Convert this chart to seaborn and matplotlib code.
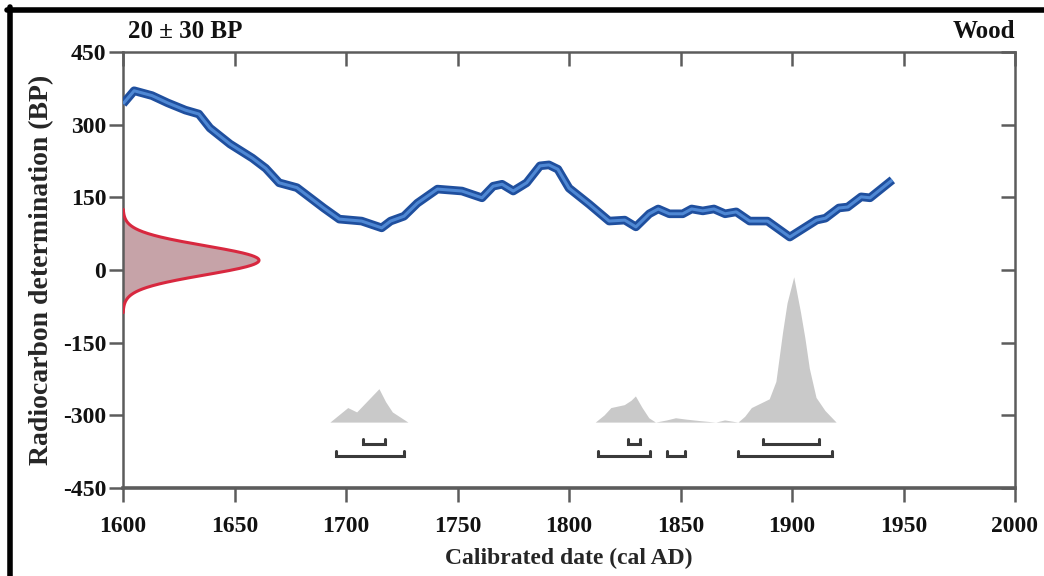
import numpy as np
import matplotlib
matplotlib.use("Agg")
import matplotlib.pyplot as plt
from matplotlib.lines import Line2D
import seaborn as sns

# Radiocarbon measurement
bp_mean = 20
bp_sigma = 30
sample_label = "20 ± 30 BP"
material = "Wood"

# Calibration curve: calendar year (cal AD) vs radiocarbon age (BP)
curve_year = [1600, 1605, 1613, 1620, 1628, 1634, 1639, 1648, 1658, 1664,
              1670, 1678, 1684, 1690, 1697, 1702, 1707, 1716, 1720, 1726,
              1732, 1741, 1752, 1761, 1766, 1770, 1775, 1781, 1787, 1791,
              1795, 1800, 1809, 1818, 1825, 1830, 1836, 1840, 1845, 1851,
              1855, 1860, 1865, 1870, 1875, 1881, 1889, 1899, 1911, 1915,
              1921, 1925, 1931, 1935, 1945]
curve_bp = [343, 370, 360, 345, 330, 322, 293, 260, 231, 210,
            180, 170, 149, 128, 105, 103, 101, 87, 101, 111,
            138, 167, 163, 149, 173, 177, 163, 180, 215, 217,
            208, 169, 136, 101, 103, 89, 116, 126, 116, 116,
            126, 122, 126, 116, 120, 101, 101, 68, 103, 107,
            128, 130, 151, 149, 186]

# Calibrated date probability (relative, peak = 100)
prob_year = [1693, 1697, 1701, 1705, 1710, 1715, 1718, 1721, 1725, 1728,
             1812, 1816, 1819, 1825, 1828, 1830, 1833, 1836, 1839, 1844,
             1848, 1853, 1859, 1866, 1870, 1876, 1879, 1882, 1886, 1890,
             1893, 1896, 1898, 1901, 1904, 1906, 1908, 1911, 1915, 1920]
prob_rel = [0, 5, 10, 7, 15, 23, 14, 7, 3, 0,
            0, 5, 10, 12, 15, 18, 10, 3, 0, 1.5,
            3, 2, 1, 0, 1.5, 0, 4, 10, 13, 16,
            28, 62, 82, 100, 76, 58, 37, 17, 8, 0]

# Calibrated ranges (68.2 % and 95.4 %)
ranges_68 = [(1707.4, 1717.7), (1826.4, 1831.8), (1887.2, 1912.3)]
ranges_95 = [(1695.7, 1726.2), (1813.0, 1836.2), (1843.8, 1851.9), (1876.0, 1918.1)]

x_ticks = [1600, 1650, 1700, 1750, 1800, 1850, 1900, 1950, 2000]
y_ticks = [450, 300, 150, 0, -150, -300, -450]

sns.set_theme(style="ticks")
plt.rcParams["font.family"] = ["Liberation Serif", "DejaVu Serif"]
plt.rcParams["font.weight"] = "bold"
plt.rcParams["axes.unicode_minus"] = False

fig = plt.figure(figsize=(10.44, 5.76), dpi=100)
ax = fig.add_axes([123 / 1044, 1 - 488 / 576, (1015 - 123) / 1044, (488 - 52) / 576])

# measured age as a normal distribution on the y axis
yy = np.linspace(bp_mean - 3.6 * bp_sigma, bp_mean + 3.5 * bp_sigma, 300)
pdf = np.exp(-0.5 * ((yy - bp_mean) / bp_sigma) ** 2)
width_years = 61
ax.fill_betweenx(yy, 1600, 1600 + width_years * pdf, facecolor="#c6a3a8",
                 edgecolor="none", zorder=2)
ax.plot(1600 + width_years * pdf, yy, color="#d8283f", lw=2.2, zorder=3)

# calibration curve band
sns.lineplot(x=curve_year, y=curve_bp, ax=ax, color="#1f4f9e", lw=6.2,
             solid_joinstyle="round", solid_capstyle="butt", zorder=4)
sns.lineplot(x=curve_year, y=curve_bp, ax=ax, color="#4f88d4", lw=2.2,
             solid_joinstyle="round", solid_capstyle="butt", zorder=5)

# calibrated probability distribution
baseline = -315
peak_height = 300
prob = np.array(prob_rel) / 100 * peak_height
ax.fill_between(prob_year, baseline, baseline + prob, facecolor="#c9c9c9",
                edgecolor="none", lw=0, zorder=2)

# calibrated ranges as brackets
def bracket(a, b, y, h=11):
    ax.plot([a, a, b, b], [y + h, y, y, y + h], color="#3a3a3a", lw=2.2,
            solid_joinstyle="miter", zorder=3)

for a, b in ranges_68:
    bracket(a, b, -360)
for a, b in ranges_95:
    bracket(a, b, -384)

ax.set_xlim(1600, 2000)
ax.set_ylim(-450, 450)
ax.set_xticks(x_ticks)
ax.set_yticks(y_ticks)
ax.set_xticklabels([str(t) for t in x_ticks])
ax.set_yticklabels([str(t) for t in y_ticks])

spine_col = "#5c5c5c"
for s in ax.spines.values():
    s.set_visible(True)
    s.set_color(spine_col)
    s.set_linewidth(1.8)
ax.spines["bottom"].set_linewidth(2.6)

ax.tick_params(axis="both", direction="out", length=10, width=1.8,
               color=spine_col, labelsize=17, labelcolor="#111111")
ax.tick_params(axis="x", pad=10)
ax.tick_params(axis="y", pad=2)

# mirrored ticks pointing inward on the top and right
top = ax.secondary_xaxis("top")
top.set_xticks(x_ticks)
top.tick_params(direction="in", length=10, width=1.8, color=spine_col,
                labeltop=False)
top.spines["top"].set_visible(False)
right = ax.secondary_yaxis("right")
right.set_yticks(y_ticks)
right.tick_params(direction="in", length=10, width=1.8, color=spine_col,
                  labelright=False)
right.spines["right"].set_visible(False)

ax.set_xlabel("Calibrated date (cal AD)", fontsize=17, fontweight="bold",
              labelpad=8)
ax.set_ylabel("Radiocarbon determination (BP)", fontsize=20,
              fontweight="bold", labelpad=6)

fig.text(128 / 1044, 1 - 31 / 576, sample_label, ha="left", va="center",
         fontsize=18, fontweight="bold", color="#111111")
fig.text(1015 / 1044, 1 - 31 / 576, material, ha="right", va="center",
         fontsize=18, fontweight="bold", color="#111111")

# frame lines along the top and left edges
fig.add_artist(Line2D([7 / 1044, 1.0], [1 - 9.5 / 576, 1 - 9.5 / 576],
                      transform=fig.transFigure, color="black", lw=4))
fig.add_artist(Line2D([9.5 / 1044, 9.5 / 1044], [0, 1 - 7 / 576],
                      transform=fig.transFigure, color="black", lw=4))

fig.savefig("out.png", dpi=100)
